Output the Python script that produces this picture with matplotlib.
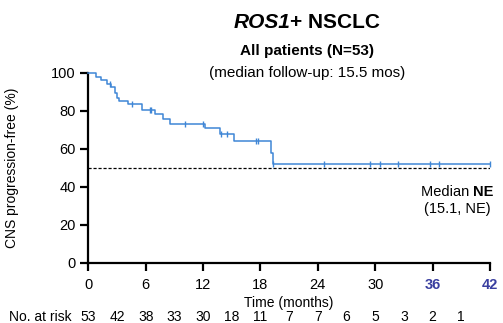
import numpy as np
import matplotlib
matplotlib.use("Agg")
import matplotlib.pyplot as plt
from matplotlib.transforms import blended_transform_factory

plt.rcParams['font.family'] = ['Liberation Sans Narrow', 'Liberation Sans', 'DejaVu Sans']

# KM step data (months, % CNS progression-free)
step_times = [0, 0.8, 1.3, 2.0, 2.4, 2.8, 3.0, 3.2, 4.1, 5.6, 7.0, 7.8, 8.5,
              12.2, 13.8, 15.2, 19.1, 19.3]
step_surv = [100, 98.1, 96.2, 94.3, 92.4, 89.7, 87.0, 85.2, 83.8, 80.3, 78.3, 75.9, 73.3,
             71.2, 67.9, 64.0, 58.0, 52.0]
censor_times = [2.3, 4.6, 6.45, 6.6, 10.1, 12.0, 13.9, 14.5, 17.5, 17.7, 19.3,
                24.6, 29.5, 30.5, 32.4, 35.7, 36.7, 42.0]
x_end = 42

xticks = [0, 6, 12, 18, 24, 30, 36, 42]
yticks = [0, 20, 40, 60, 80, 100]
risk_times = [0, 3, 6, 9, 12, 15, 18, 21, 24, 27, 30, 33, 36, 39]
at_risk = [53, 42, 38, 33, 30, 18, 11, 7, 7, 6, 5, 3, 2, 1]

blue = '#3f86d6'
dark_blue = '#3a3fa0'

fig = plt.figure(figsize=(5.03, 3.23), dpi=100)
ax = fig.add_axes([88.3 / 503, 1 - 262.7 / 323, (490 - 88.3) / 503, (262.7 - 73) / 323])

# survival curve
xs = step_times + [x_end]
ys = step_surv + [step_surv[-1]]
ax.step(xs, ys, where='post', color=blue, lw=1.1, clip_on=False, zorder=3)

# censor marks, placed on the step function
idx = np.searchsorted(step_times, censor_times, side='right') - 1
cens_y = np.array(step_surv)[idx]
ax.plot(censor_times, cens_y, ls='none', marker='|', ms=5, mew=1.0, color=blue,
        clip_on=False, zorder=4)

# median reference line
ax.plot([0, x_end], [50, 50], ls=(0, (2.5, 1.5)), color='black', lw=0.9, zorder=2)

ax.set_xlim(0, 42)
ax.set_ylim(0, 100)
ax.set_xticks(xticks)
ax.set_yticks(yticks)
for s in ['top', 'right']:
    ax.spines[s].set_visible(False)
for s in ['left', 'bottom']:
    ax.spines[s].set_linewidth(1.6)
ax.tick_params(width=1.6, length=6, labelsize=10.5, pad=3)
ax.tick_params(axis='x', pad=5)
for lbl in ax.get_xticklabels():
    if lbl.get_text() in ('36', '42'):
        lbl.set_color(dark_blue)
        lbl.set_fontweight('bold')

ax.set_xlabel('Time (months)', fontsize=10)
ax.xaxis.set_label_coords(0.5, -(296 - 262.7) / (262.7 - 73), transform=ax.transAxes)
ax.set_ylabel('CNS progression-free (%)', fontsize=10)
ax.yaxis.set_label_coords(-(88.3 - 19) / (490 - 88.3), 0.5, transform=ax.transAxes)

# titles
fig.text(290 / 503, 1 - 22 / 323, 'ROS1', fontsize=15, fontweight='bold', style='italic',
         ha='right', va='center')
fig.text(290 / 503, 1 - 22 / 323, '+ NSCLC', fontsize=15, fontweight='bold',
         ha='left', va='center')
fig.text(307 / 503, 1 - 51 / 323, 'All patients (N=53)', fontsize=11, fontweight='bold',
         ha='center', va='center')
fig.text(307 / 503, 1 - 73 / 323, '(median follow-up: 15.5 mos)', fontsize=11,
         ha='center', va='center')

# median annotation
fig.text(473 / 503, 1 - 192 / 323, 'Median ', fontsize=10.5, ha='right', va='center')
fig.text(473 / 503, 1 - 192 / 323, 'NE', fontsize=10.5, fontweight='bold', ha='left', va='center')
fig.text(424 / 503, 1 - 209 / 323, '(15.1, NE)', fontsize=10.5, ha='left', va='center')

# number at risk row
tr = blended_transform_factory(ax.transData, fig.transFigure)
fig.text(72 / 503, 1 - 321 / 323, 'No. at risk', fontsize=10, ha='right', va='baseline')
for t, n in zip(risk_times, at_risk):
    ax.text(t, 1 - 321 / 323, str(n), transform=tr, fontsize=10, ha='center', va='baseline')

fig.savefig('out.png', dpi=100)
